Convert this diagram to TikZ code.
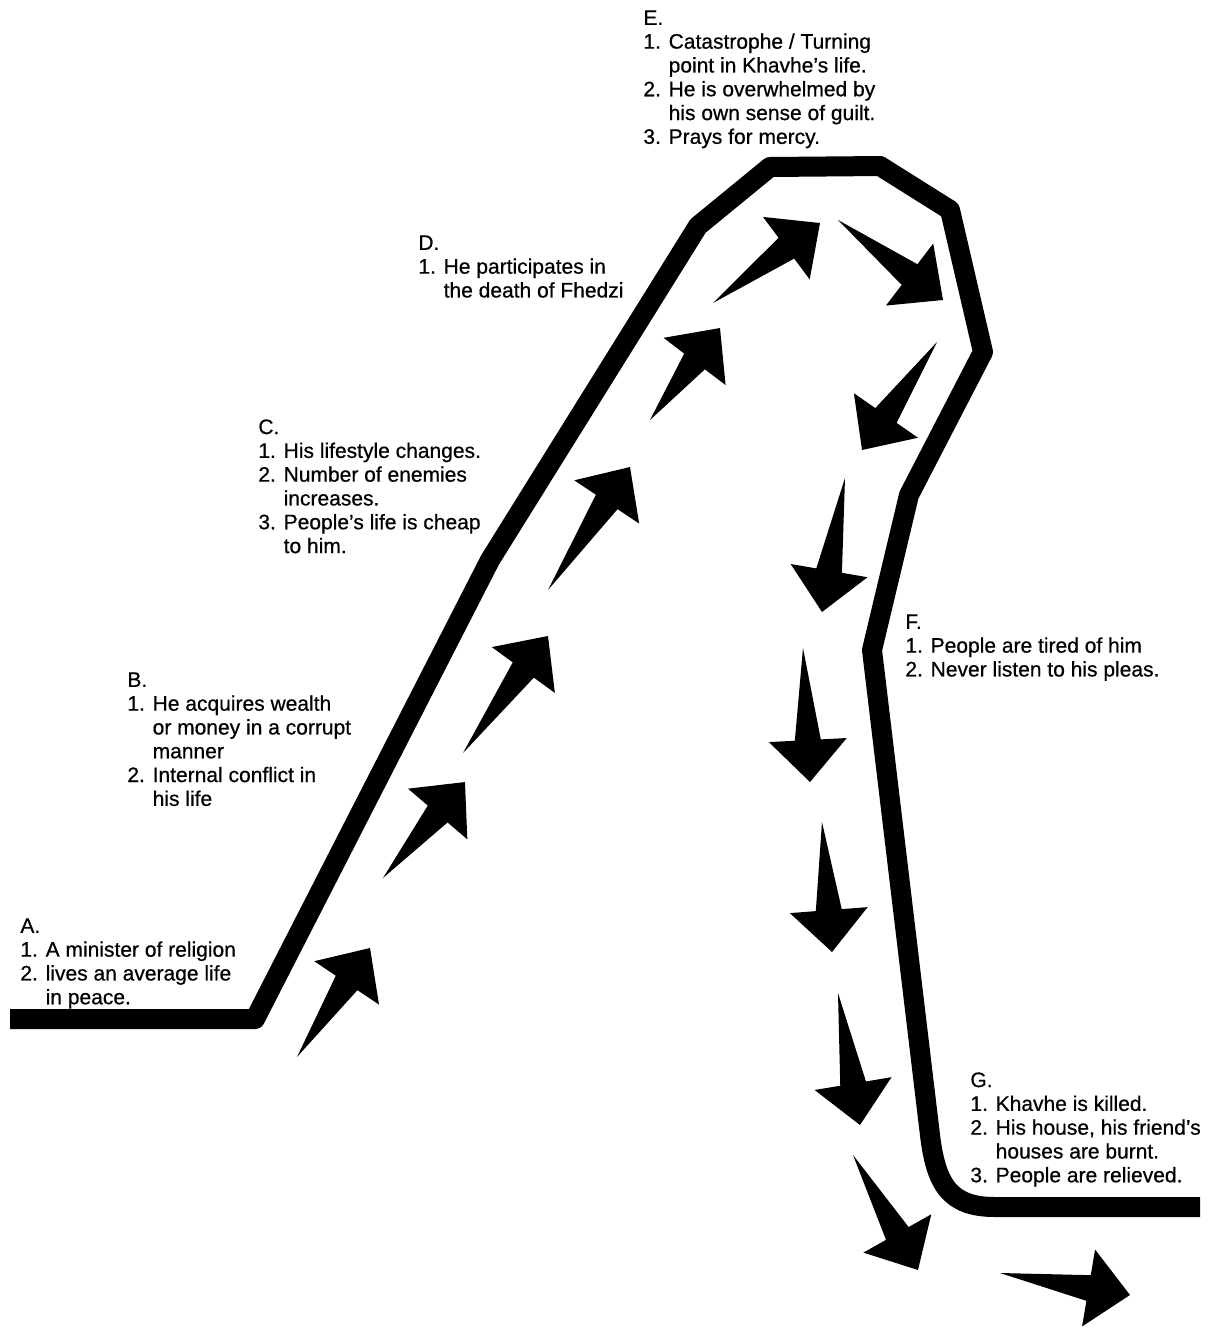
\documentclass[tikz,border=0pt]{standalone}
\usepackage{fontspec}
\setmainfont{Liberation Sans}[FakeBold=0.6]
\usetikzlibrary{positioning}

\newcommand{\indnt}{\phantom{1. }}

\begin{document}
\begin{tikzpicture}[x=0.5pt,y=-0.5pt,
      road/.style={line width=10pt,line join=round},
      note/.style={anchor=north west,align=left,inner sep=0pt,font=\fontsize{10.5pt}{11.9pt}\selectfont},
      blk/.style={fill=black}]
    \useasboundingbox (0,0) rectangle (1212,1330);
    % the road of his life
    \coordinate (start) at (10,1019);
    \coordinate (knee) at (255,1019);
    \coordinate (rise) at (490,560);
    \coordinate (upper) at (698,226);
    \coordinate (topl) at (770,167);
    \coordinate (topr) at (880,166);
    \coordinate (peak) at (950,210);
    \coordinate (fall) at (983,352);
    \coordinate (slide) at (909,495);
    \coordinate (drop) at (872,650);
    \coordinate (low) at (930,1135);
    \coordinate (flat) at (995,1207);
    \coordinate (finish) at (1200,1207);
    \draw[road] (start) -- (knee) -- (rise) -- (upper) -- (topl) -- (topr) -- (peak) -- (fall)
      -- (slide) -- (drop) -- (low) .. controls (936,1185) and (950,1207) .. (flat) -- (finish);
    % arrows along the road
    \foreach \xa/\ya/\xb/\yb in {297/1057/370/948, 383/878/465/782, 463/753/548/636,
        548/590/630/467, 650/420/720/328, 713/303/820/223, 838/220/943/300,
        937/342/862/450, 845/478/822/612, 803/648/810/782, 822/822/832/952,
        838/993/860/1125, 853/1155/918/1270, 1000/1273/1130/1295} {
      \pgfmathsetmacro\ang{atan2(\ya-\yb,\xb-\xa)}
      \pgfmathsetmacro\len{veclen(\xb-\xa,\yb-\ya)}
      \fill[blk,shift={(\xa,\ya)},rotate=\ang] (0,0) -- (\len-42,13) -- (\len-42,39) -- (\len,0)
        -- (\len-42,-39) -- (\len-42,-13) -- cycle;
    }
    % stages
    \node[note] (noteA) at (20,918) {A.\\1. A minister of religion\\2. lives an average life\\\indnt in peace.};
    \node[note] (noteB) at (127,672) {B.\\1. He acquires wealth\\\indnt or money in a corrupt\\\indnt manner\\2. Internal conflict in\\\indnt his life};
    \node[note] (noteC) at (258,419) {C.\\1. His lifestyle changes.\\2. Number of enemies\\\indnt increases.\\3. People's life is cheap\\\indnt to him.};
    \node[note] (noteD) at (418,235) {D.\\1. He participates in\\\indnt the death of Fhedzi};
    \node[note] (noteE) at (643,10) {E.\\1. Catastrophe / Turning\\\indnt point in Khavhe's life.\\2. He is overwhelmed by\\\indnt his own sense of guilt.\\3. Prays for mercy.};
    \node[note] (noteF) at (905,614) {F.\\1. People are tired of him\\2. Never listen to his pleas.};
    \node[note] (noteG) at (970,1072) {G.\\1. Khavhe is killed.\\2. His house, his friend's\\\indnt houses are burnt.\\3. People are relieved.};
  \end{tikzpicture}
\end{document}
